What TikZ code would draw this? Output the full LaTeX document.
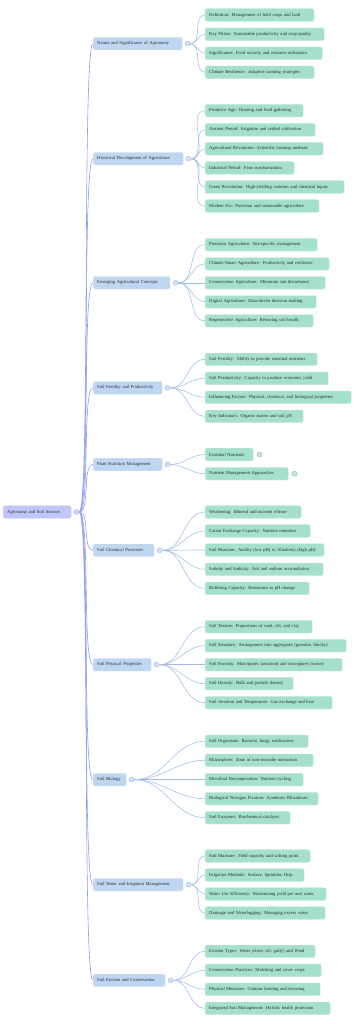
\documentclass[tikz,border=0pt]{standalone}
\usepackage{fontspec}
\setmainfont{Liberation Serif}
\usetikzlibrary{positioning}
\definecolor{RootFill}{RGB}{192,198,247}
\definecolor{TopicFill}{RGB}{191,214,240}
\definecolor{LeafFill}{RGB}{164,224,202}
\definecolor{RootLine}{RGB}{142,156,242}
\definecolor{TopicLine}{RGB}{160,188,230}
\definecolor{InkGray}{RGB}{45,45,45}
\tikzset{
    box/.style={rectangle, rounded corners=2pt, anchor=west, align=left,
        inner xsep=4pt, inner ysep=0pt, minimum height=12.6pt,
        font=\fontsize{4.6}{5.5}\selectfont, text=InkGray, line width=0.4pt},
    rootbox/.style={box, fill=RootFill, draw=RootFill!60!white},
    topic/.style={box, fill=TopicFill, draw=TopicFill!60!white},
    leaf/.style={box, fill=LeafFill, draw=LeafFill!60!white},
    toggle/.style={circle, inner sep=0pt, minimum size=5pt, line width=0.4pt,
        fill=TopicFill!70!white, draw=TopicLine},
    rootline/.style={draw=RootLine, line width=0.6pt},
    branchline/.style={draw=TopicLine, line width=0.55pt}
}
\begin{document}
\begin{tikzpicture}[x=1pt, y=-1pt]
    \useasboundingbox (0,0) rectangle (362,1024);
    % root
    \node[rootbox, text width=60pt] (root) at (3,512) {Agronomy and Soil Science};
    \node[toggle, fill=RootFill!60!white, draw=RootLine, right=2.5pt of root] (c-root) {};
    % main topics
    \node[topic, text width=81pt] (nat) at (93,43.7) {Nature and Significance of Agronomy};
    \node[topic, text width=82pt] (hist) at (93,158.7) {Historical Development of Agriculture};
    \node[topic, text width=69pt] (emer) at (93,282.8) {Emerging Agricultural Concepts};
    \node[topic, text width=61pt] (fert) at (93,387.8) {Soil Fertility and Productivity};
    \node[topic, text width=61pt] (nutr) at (93,464.5) {Plant Nutrition Management};
    \node[topic, text width=53pt] (chem) at (93,550.3) {Soil Chemical Processes};
    \node[topic, text width=50pt] (phys) at (93,664.7) {Soil Physical Properties};
    \node[topic, text width=25pt] (bio) at (93,779.7) {Soil Biology};
    \node[topic, text width=82pt] (water) at (93,884.7) {Soil Water and Irrigation Management};
    \node[topic, text width=64pt] (eros) at (93,980.3) {Soil Erosion and Conservation};
    \foreach \t in {nat,hist,emer,fert,nutr,chem,phys,bio,water,eros}
        \node[toggle, right=2.5pt of \t] (c-\t) {};
    % details
    \node[leaf, text width=101pt] (nat-1) at (205,15) {Definition: Management of field crops and land};
    \node[leaf, text width=111pt] (nat-2) at (205,34.3) {Key Pillars: Sustainable productivity and crop quality};
    \node[leaf, text width=109pt] (nat-3) at (205,53.3) {Significance: Food security and resource utilization};
    \node[leaf, text width=101pt] (nat-4) at (205,72.3) {Climate Resilience: Adaptive farming strategies};

    \node[leaf, text width=90pt] (hist-1) at (205,110.7) {Primitive Age: Hunting and food gathering};
    \node[leaf, text width=102pt] (hist-2) at (205,129.8) {Ancient Period: Irrigation and settled cultivation};
    \node[leaf, text width=110pt] (hist-3) at (205,148.8) {Agricultural Revolution: Scientific farming methods};
    \node[leaf, text width=81pt] (hist-4) at (205,168) {Industrial Period: Farm mechanization};
    \node[leaf, text width=131pt] (hist-5) at (205,187) {Green Revolution: High-yielding varieties and chemical inputs};
    \node[leaf, text width=106pt] (hist-6) at (205,206) {Modern Era: Precision and sustainable agriculture};

    \node[leaf, text width=104pt] (emer-1) at (205,244.7) {Precision Agriculture: Site-specific management};
    \node[leaf, text width=116pt] (emer-2) at (205,263.8) {Climate-Smart Agriculture: Productivity and resilience};
    \node[leaf, text width=112pt] (emer-3) at (205,282.8) {Conservation Agriculture: Minimum soil disturbance};
    \node[leaf, text width=103pt] (emer-4) at (205,301.8) {Digital Agriculture: Data-driven decision making};
    \node[leaf, text width=100pt] (emer-5) at (205,320.8) {Regenerative Agriculture: Restoring soil health};

    \node[leaf, text width=104pt] (fert-1) at (205,359.3) {Soil Fertility: Ability to provide essential nutrients};
    \node[leaf, text width=115pt] (fert-2) at (205,378.3) {Soil Productivity: Capacity to produce economic yield};
    \node[leaf, text width=138pt] (fert-3) at (205,397.3) {Influencing Factors: Physical, chemical, and biological properties};
    \node[leaf, text width=90pt] (fert-4) at (205,416.3) {Key Indicators: Organic matter and soil pH};

    \node[leaf, text width=40pt] (nutr-1) at (205,454.5) {Essential Nutrients};
    \node[leaf, text width=75pt] (nutr-2) at (205,473.7) {Nutrient Management Approaches};
    \node[toggle, fill=LeafFill!70!white, draw=LeafFill!80!black, right=3.5pt of nutr-1] (c-nutr-1) {};
    \node[toggle, fill=LeafFill!70!white, draw=LeafFill!80!black, right=3.5pt of nutr-2] (c-nutr-2) {};

    \node[leaf, text width=88pt] (chem-1) at (205,512) {Weathering: Mineral and nutrient release};
    \node[leaf, text width=97pt] (chem-2) at (205,531) {Cation Exchange Capacity: Nutrient retention};
    \node[leaf, text width=111pt] (chem-3) at (205,550) {Soil Reaction: Acidity (low pH) to Alkalinity (high pH)};
    \node[leaf, text width=110pt] (chem-4) at (205,569.3) {Salinity and Sodicity: Salt and sodium accumulation};
    \node[leaf, text width=96pt] (chem-5) at (205,588.3) {Buffering Capacity: Resistance to pH change};

    \node[leaf, text width=99pt] (phys-1) at (205,626.7) {Soil Texture: Proportions of sand, silt, and clay};
    \node[leaf, text width=133pt] (phys-2) at (205,645.7) {Soil Structure: Arrangement into aggregates (granular, blocky)};
    \node[leaf, text width=129pt] (phys-3) at (205,664.7) {Soil Porosity: Macropores (aeration) and micropores (water)};
    \node[leaf, text width=80pt] (phys-4) at (205,683.7) {Soil Density: Bulk and particle density};
    \node[leaf, text width=119pt] (phys-5) at (205,702.7) {Soil Aeration and Temperature: Gas exchange and heat};

    \node[leaf, text width=95pt] (bio-1) at (205,741.3) {Soil Organisms: Bacteria, fungi, earthworms};
    \node[leaf, text width=100pt] (bio-2) at (205,760.3) {Rhizosphere: Zone of root-microbe interaction};
    \node[leaf, text width=90pt] (bio-3) at (205,779.7) {Microbial Decomposition: Nutrient cycling};
    \node[leaf, text width=105pt] (bio-4) at (205,798.7) {Biological Nitrogen Fixation: Symbiotic Rhizobium};
    \node[leaf, text width=77pt] (bio-5) at (205,817.7) {Soil Enzymes: Biochemical catalysts};

    \node[leaf, text width=97pt] (water-1) at (205,856) {Soil Moisture: Field capacity and wilting point};
    \node[leaf, text width=91pt] (water-2) at (205,875) {Irrigation Methods: Surface, Sprinkler, Drip};
    \node[leaf, text width=113pt] (water-3) at (205,894) {Water Use Efficiency: Maximizing yield per unit water};
    \node[leaf, text width=112pt] (water-4) at (205,913) {Drainage and Waterlogging: Managing excess water};

    \node[leaf, text width=102pt] (eros-1) at (205,951.3) {Erosion Types: Water (sheet, rill, gully) and Wind};
    \node[leaf, text width=108pt] (eros-2) at (205,970.3) {Conservation Practices: Mulching and cover crops};
    \node[leaf, text width=107pt] (eros-3) at (205,989.3) {Physical Measures: Contour farming and terracing};
    \node[leaf, text width=117pt] (eros-4) at (205,1008.3) {Integrated Soil Management: Holistic health protection};
    % connectors
    \begin{scope}[on background layer/.try]
    \foreach \t in {nat,hist,emer,fert,nutr,chem,phys,bio,water,eros}
        \draw[rootline] (c-root.east) .. controls +(11,0) and +(-11,0) .. (\t.west);
    \foreach \t/\k in {nat/4,hist/6,emer/5,fert/4,nutr/2,chem/5,phys/5,bio/5,water/4,eros/4}
        \foreach \i in {1,...,\k}
            \draw[branchline] (c-\t.east) to[out=0, in=180] (\t-\i.west);
    \end{scope}
\end{tikzpicture}
\end{document}
